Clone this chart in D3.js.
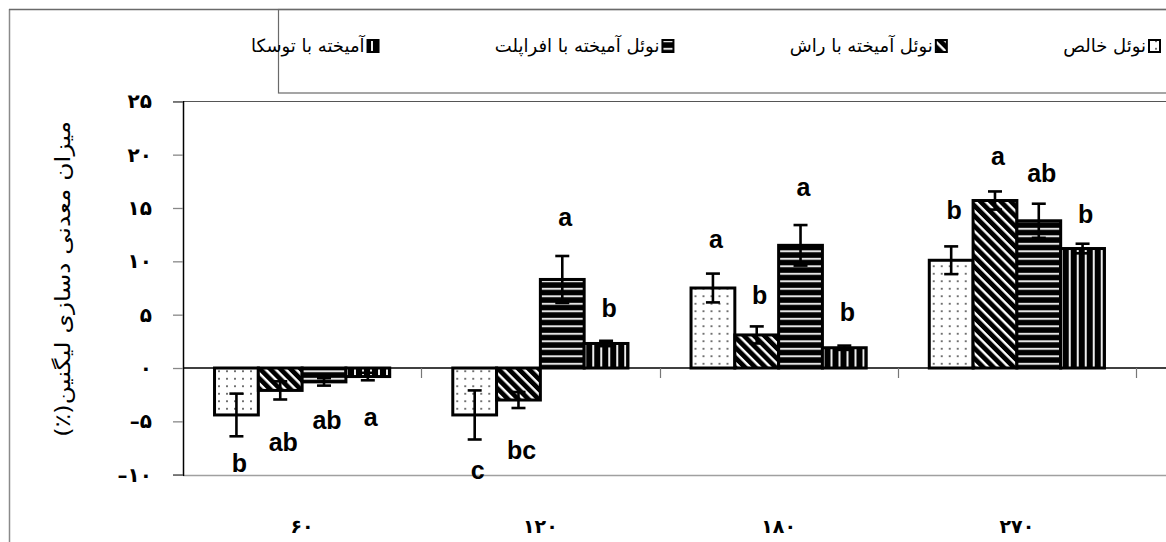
<!DOCTYPE html>
<html>
<head>
<meta charset="utf-8">
<script src="https://cdn.jsdelivr.net/npm/d3@7"></script>
<style>
  body { margin: 0; background: #fff; }
  svg { display: block; }
</style>
</head>
<body>
<svg id="chart" width="1166" height="542"></svg>
<script>
// Sampling days
const categories = ["60", "120", "180", "270"];
const categoryLabels = ["۶۰", "۱۲۰", "۱۸۰", "۲۷۰"];

// Treatments as written in the legend (right to left)
const seriesNames = ["نوئل خالص", "نوئل آمیخته با راش", "نوئل آمیخته با افراپلت", "آمیخته با توسکا"];

// Mean lignin mineralisation (%) per treatment
const pure  = [-4.4, -4.4, 7.5, 10.1];
const beech = [-2.1, -3.0, 3.1, 15.7];
const maple = [-1.3, 8.3, 11.5, 13.8];
const alder = [-0.8, 2.3, 1.9, 11.2];

// Standard errors
const pureErr  = [2.0, 2.3, 1.35, 1.3];
const beechErr = [0.85, 0.75, 0.8, 0.85];
const mapleErr = [0.35, 2.2, 1.9, 1.6];
const alderErr = [0.35, 0.25, 0.2, 0.45];

// Significance letters and the axis value each one is written at
const pureLetters  = ["b", "c", "a", "b"];
const beechLetters = ["ab", "bc", "b", "a"];
const mapleLetters = ["ab", "a", "a", "ab"];
const alderLetters = ["a", "b", "b", "b"];
const pureLetterAt  = [-8.9, -9.55, 12.1, 14.8];
const beechLetterAt = [-6.95, -7.7, 6.85, 19.9];
const mapleLetterAt = [-4.9, 14.15, 17.0, 18.3];
const alderLetterAt = [-4.6, 5.6, 5.25, 14.4];

// Value axis
const yTicks = [-10, -5, 0, 5, 10, 15, 20, 25];
const yTickLabels = ["–۱۰", "–۵", "۰", "۵", "۱۰", "۱۵", "۲۰", "۲۵"];
const yTitle = "میزان  معدنی دسازی لیگنین(٪)";

const values = [pure, beech, maple, alder];
const errors = [pureErr, beechErr, mapleErr, alderErr];
const letters = [pureLetters, beechLetters, mapleLetters, alderLetters];
const letterAt = [pureLetterAt, beechLetterAt, mapleLetterAt, alderLetterAt];
const patternIds = ["pDots", "pDiag", "pHoriz", "pVert"];

const W = 1166, H = 542;
const plot = { left: 183, right: 1136, top: 101.3, bottom: 474.7 };
const svg = d3.select("#chart");
const defs = svg.append("defs");

// ---- fill patterns ----
const dots = defs.append("pattern").attr("id", "pDots").attr("patternUnits", "userSpaceOnUse")
  .attr("width", 8).attr("height", 7.5);
dots.append("rect").attr("width", 8).attr("height", 7.5).attr("fill", "#fff");
dots.append("circle").attr("cx", 4).attr("cy", 3.7).attr("r", 0.95).attr("fill", "#333");

const diag = defs.append("pattern").attr("id", "pDiag").attr("patternUnits", "userSpaceOnUse")
  .attr("width", 7.2).attr("height", 7.2).attr("patternTransform", "rotate(45)");
diag.append("rect").attr("width", 7.2).attr("height", 7.2).attr("fill", "#000");
diag.append("rect").attr("y", 0).attr("width", 7.2).attr("height", 2.4).attr("fill", "#fff");

const horiz = defs.append("pattern").attr("id", "pHoriz").attr("patternUnits", "userSpaceOnUse")
  .attr("width", 8).attr("height", 7.5);
horiz.append("rect").attr("width", 8).attr("height", 7.5).attr("fill", "#000");
horiz.append("rect").attr("y", 2.8).attr("width", 8).attr("height", 2).attr("fill", "#e4e4e4");

const vert = defs.append("pattern").attr("id", "pVert").attr("patternUnits", "userSpaceOnUse")
  .attr("width", 8).attr("height", 8);
vert.append("rect").attr("width", 8).attr("height", 8).attr("fill", "#000");
vert.append("rect").attr("x", 3).attr("width", 2).attr("height", 8).attr("fill", "#eee");

// ---- frames ----
svg.append("line").attr("x1", 9.5).attr("x2", 9.5).attr("y1", 9).attr("y2", H + 5)
  .attr("stroke", "#8a8a8a").attr("stroke-width", 1.5);
svg.append("line").attr("x1", 9).attr("x2", W + 5).attr("y1", 9.5).attr("y2", 9.5)
  .attr("stroke", "#6a6a6a").attr("stroke-width", 1.5);
svg.append("rect").attr("x", 278.5).attr("y", 9.5).attr("width", W).attr("height", 83.5)
  .attr("fill", "none").attr("stroke", "#6a6a6a").attr("stroke-width", 1.2);

// ---- scales ----
const y = d3.scaleLinear().domain([-10, 25]).range([plot.bottom, plot.top]);
const x0 = d3.scaleBand().domain(categories).range([plot.left, plot.right]);
const x1 = d3.scaleBand().domain(d3.range(seriesNames.length))
  .range([0, x0.bandwidth()]).paddingInner(0).paddingOuter(0.72);

// plot area top / bottom borders
svg.append("line").attr("x1", plot.left).attr("x2", W + 5)
  .attr("y1", Math.round(y(25)) + 0.5).attr("y2", Math.round(y(25)) + 0.5)
  .attr("stroke", "#555").attr("stroke-width", 1.2);
svg.append("line").attr("x1", plot.left).attr("x2", W + 5)
  .attr("y1", Math.round(y(-10)) + 0.5).attr("y2", Math.round(y(-10)) + 0.5)
  .attr("stroke", "#a0a0a0").attr("stroke-width", 1.5);

// ---- value axis ----
const yAxis = svg.append("g").attr("transform", `translate(${plot.left},0)`)
  .call(d3.axisLeft(y).tickValues(yTicks).tickFormat((d, i) => yTickLabels[i])
    .tickSize(10).tickPadding(21));
yAxis.select(".domain").attr("stroke", "#000").attr("stroke-width", 1.5);
yAxis.selectAll(".tick line").attr("stroke", "#888").attr("stroke-width", 1.3);
yAxis.selectAll(".tick text")
  .attr("font-family", "DejaVu Sans").attr("font-weight", "bold").attr("font-size", 20)
  .attr("fill", "#000");

svg.append("text")
  .attr("transform", `translate(70,279) rotate(-90)`)
  .attr("direction", "rtl")
  .attr("text-anchor", "middle")
  .attr("font-family", "DejaVu Sans").attr("font-size", 21)
  .attr("textLength", 316).attr("lengthAdjust", "spacingAndGlyphs")
  .attr("fill", "#000")
  .text(yTitle);

// ---- bars ----
const groups = svg.append("g").selectAll("g").data(categories).join("g")
  .attr("transform", d => `translate(${x0(d)},0)`);

groups.each(function (cat, ci) {
  const g = d3.select(this);
  seriesNames.forEach((name, si) => {
    const v = values[si][ci];
    g.append("rect")
      .attr("x", x1(si)).attr("width", x1.bandwidth())
      .attr("y", Math.min(y(v), y(0))).attr("height", Math.abs(y(v) - y(0)))
      .attr("fill", `url(#${patternIds[si]})`)
      .attr("stroke", "#000").attr("stroke-width", 3);
  });
});

// zero line with category ticks
svg.append("line").attr("x1", plot.left).attr("x2", W + 5)
  .attr("y1", y(0)).attr("y2", y(0)).attr("stroke", "#000").attr("stroke-width", 1.5);
categories.forEach(c => {
  const xb = Math.round(x0(c) + x0.bandwidth()) + 0.5;
  svg.append("line").attr("x1", xb).attr("x2", xb).attr("y1", y(0)).attr("y2", y(0) + 10)
    .attr("stroke", "#777").attr("stroke-width", 1.2);
});

// ---- error bars and letters ----
groups.each(function (cat, ci) {
  const g = d3.select(this);
  seriesNames.forEach((name, si) => {
    const v = values[si][ci], e = errors[si][ci];
    const cx = x1(si) + x1.bandwidth() / 2;
    const eb = g.append("g").attr("stroke", "#000").attr("stroke-width", 2.6);
    eb.append("line").attr("x1", cx).attr("x2", cx).attr("y1", y(v - e)).attr("y2", y(v + e));
    eb.append("line").attr("x1", cx - 7).attr("x2", cx + 7).attr("y1", y(v - e)).attr("y2", y(v - e));
    eb.append("line").attr("x1", cx - 7).attr("x2", cx + 7).attr("y1", y(v + e)).attr("y2", y(v + e));
    g.append("text")
      .attr("x", cx + 3).attr("y", y(letterAt[si][ci]))
      .attr("dy", "0.36em")
      .attr("text-anchor", "middle")
      .attr("font-family", "Liberation Sans, Arial, sans-serif").attr("font-weight", "bold")
      .attr("font-size", 25).attr("fill", "#000")
      .text(letters[si][ci]);
  });
});

// ---- category labels ----
svg.append("g").selectAll("text").data(categories).join("text")
  .attr("x", d => x0(d) + x0.bandwidth() / 2)
  .attr("y", 526).attr("dy", "0.36em")
  .attr("text-anchor", "middle")
  .attr("font-family", "DejaVu Sans").attr("font-weight", "bold").attr("font-size", 19)
  .attr("fill", "#000")
  .text((d, i) => categoryLabels[i]);

// ---- legend: entries spread evenly across the header, right to left ----
const legend = svg.append("g");
const legendY = 46, legendRight = 1160, legendLeft = 252;
const entries = seriesNames.map((name, si) => {
  const t = legend.append("text")
    .attr("y", legendY).attr("dy", "0.32em")
    .attr("direction", "rtl").attr("text-anchor", "start")
    .attr("font-family", "DejaVu Sans").attr("font-size", 18).attr("fill", "#000")
    .text(name);
  return { t, si, w: t.node().getComputedTextLength() + 13 };
});
const used = d3.sum(entries, d => d.w);
const gap = (legendRight - legendLeft - used) / (entries.length - 1);
let cursor = legendRight;
entries.forEach(e => {
  legend.append("rect")
    .attr("x", cursor - 11).attr("y", legendY - 6).attr("width", 11).attr("height", 12)
    .attr("fill", `url(#${patternIds[e.si]})`).attr("stroke", "#000").attr("stroke-width", 2);
  e.t.attr("x", cursor - 14);
  cursor -= e.w + gap;
});
</script>
</body>
</html>
